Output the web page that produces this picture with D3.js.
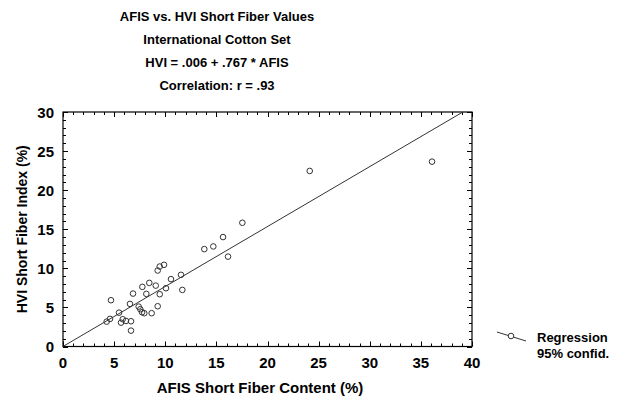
<!DOCTYPE html>
<html>
<head>
<meta charset="utf-8">
<script src="https://cdn.jsdelivr.net/npm/d3@7"></script>
<style>
  body { margin: 0; background: #fff; }
  text { font-family: "Liberation Sans", Arial, sans-serif; font-weight: bold; fill: #000; }
</style>
</head>
<body>
<div id="chart"></div>
<script>
// AFIS short fiber content (x) vs HVI short fiber index (y)
const afis = [4.27, 4.6, 4.69, 5.48, 5.67, 5.84, 6.16, 6.65, 6.65, 6.55, 6.85, 7.4, 7.56, 7.73, 7.95,
  7.76, 8.15, 8.44, 8.67, 9.07, 9.26, 9.46, 9.26, 9.46, 9.88, 10.07, 10.56, 11.54, 11.67,
  13.82, 14.7, 15.65, 16.14, 17.54, 24.13, 36.09];
const hvi = [3.18, 3.53, 5.92, 4.33, 3.05, 3.49, 3.27, 3.23, 2.03, 5.45, 6.77, 5.1, 4.77, 4.38, 4.26,
  7.63, 6.73, 8.14, 4.26, 7.79, 5.15, 6.69, 9.72, 10.23, 10.45, 7.46, 8.62, 9.17, 7.24,
  12.46, 12.8, 14.0, 11.5, 15.83, 22.46, 23.65];
const intercept = 0.006, slope = 0.767;
const titleLines = ["AFIS vs. HVI Short Fiber Values", "International Cotton Set",
  "HVI = .006 + .767 * AFIS", "Correlation: r = .93"];
const xTicks = [0, 5, 10, 15, 20, 25, 30, 35, 40];
const yTicks = [0, 5, 10, 15, 20, 25, 30];
const legendLabels = ["Regression", "95% confid."];

const width = 621, height = 398;
const svg = d3.select("#chart").append("svg")
  .attr("width", width).attr("height", height);

const x = d3.scaleLinear().domain([0, 40]).range([63, 472]);
const y = d3.scaleLinear().domain([0, 30]).range([346.5, 112]);

// titles
svg.selectAll(".title").data(titleLines).join("text")
  .attr("class", "title")
  .attr("x", 217).attr("y", (d, i) => 20.5 + i * 23.3)
  .attr("text-anchor", "middle").style("font-size", "13px")
  .text(d => d);

// clip for the fit line
svg.append("clipPath").attr("id", "clip").append("rect")
  .attr("x", 63).attr("y", 112).attr("width", 409).attr("height", 234.5);

// minor + major ticks on all four sides (inside)
const minorX = d3.range(0, 41, 1), minorY = d3.range(0, 31, 1);
const tickG = svg.append("g").attr("stroke", "#000").attr("stroke-width", 1);
minorX.forEach(v => {
  const len = v % 5 === 0 ? 5 : 3;
  const px = Math.round(x(v)) + 0.5;
  tickG.append("line").attr("x1", px).attr("x2", px).attr("y1", y(0)).attr("y2", y(0) - len);
  tickG.append("line").attr("x1", px).attr("x2", px).attr("y1", y(30)).attr("y2", y(30) + len);
});
minorY.forEach(v => {
  const len = v % 5 === 0 ? 5 : 3;
  const py = Math.round(y(v)) + 0.5;
  tickG.append("line").attr("x1", x(0)).attr("x2", x(0) + len).attr("y1", py).attr("y2", py);
  tickG.append("line").attr("x1", x(40)).attr("x2", x(40) - len).attr("y1", py).attr("y2", py);
});

// frame
svg.append("rect")
  .attr("x", x(0)).attr("y", y(30))
  .attr("width", x(40) - x(0)).attr("height", y(0) - y(30))
  .attr("fill", "none").attr("stroke", "#000").attr("stroke-width", 1.2);

// tick labels
svg.selectAll(".xl").data(xTicks).join("text")
  .attr("class", "xl")
  .attr("x", d => x(d)).attr("y", 367.5)
  .attr("text-anchor", "middle").style("font-size", "15px")
  .text(d => d);
svg.selectAll(".yl").data(yTicks).join("text")
  .attr("class", "yl")
  .attr("x", 54).attr("y", d => y(d) + 5.5)
  .attr("text-anchor", "end").style("font-size", "15px")
  .text(d => d);

// axis titles
svg.append("text")
  .attr("x", 260).attr("y", 393)
  .attr("text-anchor", "middle").style("font-size", "15px")
  .text("AFIS Short Fiber Content (%)");
svg.append("text")
  .attr("transform", `translate(27, ${(y(0) + y(30)) / 2}) rotate(-90)`)
  .attr("text-anchor", "middle").style("font-size", "14px")
  .text("HVI Short Fiber Index (%)");

// regression line
svg.append("line")
  .attr("clip-path", "url(#clip)")
  .attr("x1", x(0)).attr("y1", y(intercept))
  .attr("x2", x(40)).attr("y2", y(intercept + slope * 40))
  .attr("stroke", "#333").attr("stroke-width", 1);

// points
const pts = afis.map((v, i) => ({ x: v, y: hvi[i] }));
svg.selectAll(".pt").data(pts).join("circle")
  .attr("class", "pt")
  .attr("cx", d => x(d.x)).attr("cy", d => y(d.y))
  .attr("r", 2.8)
  .attr("fill", "none").attr("stroke", "#333").attr("stroke-width", 1);

// legend
const lg = svg.append("g");
lg.append("line").attr("x1", 497).attr("y1", 332).attr("x2", 526).attr("y2", 341)
  .attr("stroke", "#333").attr("stroke-width", 1);
lg.append("circle").attr("cx", 511).attr("cy", 336).attr("r", 2.8)
  .attr("fill", "#fff").attr("stroke", "#333");
lg.selectAll("text").data(legendLabels).join("text")
  .attr("x", 537).attr("y", (d, i) => 342 + i * 16)
  .style("font-size", "13px")
  .text(d => d);
</script>
</body>
</html>
